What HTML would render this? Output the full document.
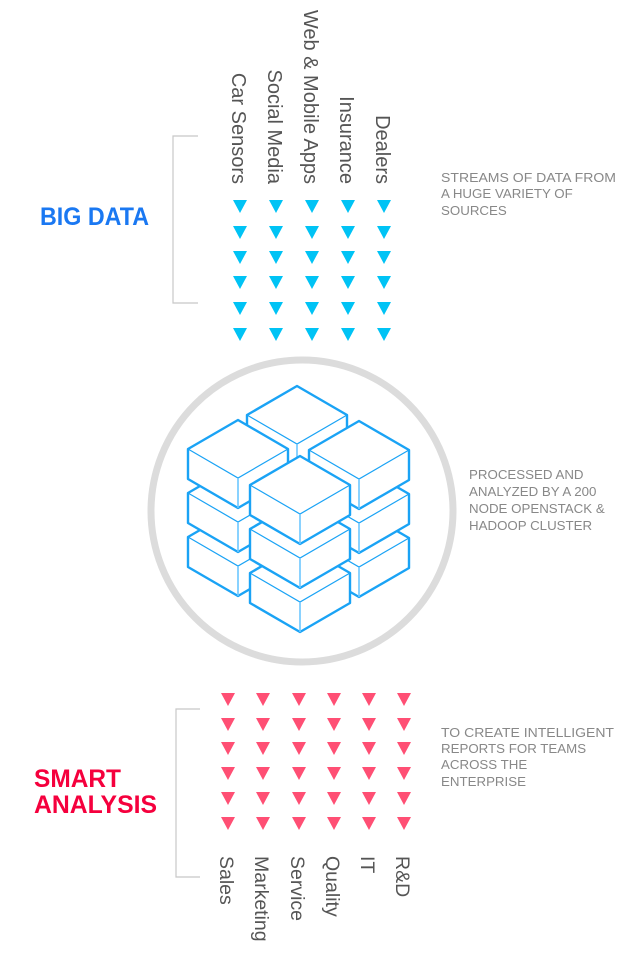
<!DOCTYPE html>
<html><head><meta charset="utf-8"><style>
html,body{margin:0;padding:0;background:#fff;}
svg{display:block;}
</style></head><body>
<svg width="631" height="960" viewBox="0 0 631 960" xmlns="http://www.w3.org/2000/svg" font-family="Liberation Sans, sans-serif">
<defs>
<polygon id="tb" points="-7,-7 7,-7 0,6" fill="#00c3f5"/>
<polygon id="tr" points="-7,-7 7,-7 0,6" fill="#ff4f74"/>
<g id="box">
<polygon points="0,0 50,29 50,59 0,88 -50,59 -50,29" fill="#fff" stroke="#1aa3f5" stroke-width="2.4" stroke-linejoin="round"/>
<polyline points="-50,29 0,58 50,29" fill="none" stroke="#1aa3f5" stroke-width="1.2"/>
<line x1="0" y1="58" x2="0" y2="88" stroke="#6cc6ff" stroke-width="1.6"/>
</g>
</defs>

<polyline points="198,136 173,136 173,303 198,303" fill="none" stroke="#c8c8c8" stroke-width="1.2"/>
<polyline points="200,709 176,709 176,877 200,877" fill="none" stroke="#c8c8c8" stroke-width="1.2"/>

<g font-size="20" fill="#555">
<text transform="translate(232,184) rotate(90)" text-anchor="end">Car Sensors</text>
<text transform="translate(268,184) rotate(90)" text-anchor="end">Social Media</text>
<text transform="translate(304,184) rotate(90)" text-anchor="end">Web &amp; Mobile Apps</text>
<text transform="translate(340,184) rotate(90)" text-anchor="end">Insurance</text>
<text transform="translate(376,184) rotate(90)" text-anchor="end">Dealers</text>
</g>

<g>
<use href="#tb" x="240" y="207"/><use href="#tb" x="276" y="207"/><use href="#tb" x="312" y="207"/><use href="#tb" x="348" y="207"/><use href="#tb" x="384" y="207"/>
<use href="#tb" x="240" y="233"/><use href="#tb" x="276" y="233"/><use href="#tb" x="312" y="233"/><use href="#tb" x="348" y="233"/><use href="#tb" x="384" y="233"/>
<use href="#tb" x="240" y="258"/><use href="#tb" x="276" y="258"/><use href="#tb" x="312" y="258"/><use href="#tb" x="348" y="258"/><use href="#tb" x="384" y="258"/>
<use href="#tb" x="240" y="283"/><use href="#tb" x="276" y="283"/><use href="#tb" x="312" y="283"/><use href="#tb" x="348" y="283"/><use href="#tb" x="384" y="283"/>
<use href="#tb" x="240" y="309"/><use href="#tb" x="276" y="309"/><use href="#tb" x="312" y="309"/><use href="#tb" x="348" y="309"/><use href="#tb" x="384" y="309"/>
<use href="#tb" x="240" y="335"/><use href="#tb" x="276" y="335"/><use href="#tb" x="312" y="335"/><use href="#tb" x="348" y="335"/><use href="#tb" x="384" y="335"/>
</g>

<text x="40" y="225" font-size="25" font-weight="bold" fill="#1a78f2" textLength="109" lengthAdjust="spacingAndGlyphs">BIG DATA</text>

<g font-size="13.3" fill="#888">
<text x="441" y="182" textLength="175" lengthAdjust="spacingAndGlyphs">STREAMS OF DATA FROM</text>
<text x="441" y="198">A HUGE VARIETY OF</text>
<text x="441" y="215">SOURCES</text>
<text x="469" y="479">PROCESSED AND</text>
<text x="469" y="496">ANALYZED BY A 200</text>
<text x="469" y="513">NODE OPENSTACK &amp;</text>
<text x="469" y="530">HADOOP CLUSTER</text>
<text x="441" y="737" textLength="173" lengthAdjust="spacingAndGlyphs">TO CREATE INTELLIGENT</text>
<text x="441" y="753">REPORTS FOR TEAMS</text>
<text x="441" y="769">ACROSS THE</text>
<text x="441" y="786">ENTERPRISE</text>
</g>

<circle cx="302" cy="511" r="151" fill="#fff" stroke="#dcdcdc" stroke-width="7"/>

<use href="#box" x="297" y="474"/><use href="#box" x="297" y="430"/><use href="#box" x="297" y="386"/>
<use href="#box" x="238" y="508"/><use href="#box" x="238" y="464"/><use href="#box" x="238" y="420"/>
<use href="#box" x="359" y="509"/><use href="#box" x="359" y="465"/><use href="#box" x="359" y="421"/>
<use href="#box" x="300" y="544"/><use href="#box" x="300" y="500"/><use href="#box" x="300" y="456"/>

<g>
<use href="#tr" x="228" y="700"/><use href="#tr" x="263" y="700"/><use href="#tr" x="299" y="700"/><use href="#tr" x="334" y="700"/><use href="#tr" x="369" y="700"/><use href="#tr" x="404" y="700"/>
<use href="#tr" x="228" y="725"/><use href="#tr" x="263" y="725"/><use href="#tr" x="299" y="725"/><use href="#tr" x="334" y="725"/><use href="#tr" x="369" y="725"/><use href="#tr" x="404" y="725"/>
<use href="#tr" x="228" y="749"/><use href="#tr" x="263" y="749"/><use href="#tr" x="299" y="749"/><use href="#tr" x="334" y="749"/><use href="#tr" x="369" y="749"/><use href="#tr" x="404" y="749"/>
<use href="#tr" x="228" y="774"/><use href="#tr" x="263" y="774"/><use href="#tr" x="299" y="774"/><use href="#tr" x="334" y="774"/><use href="#tr" x="369" y="774"/><use href="#tr" x="404" y="774"/>
<use href="#tr" x="228" y="799"/><use href="#tr" x="263" y="799"/><use href="#tr" x="299" y="799"/><use href="#tr" x="334" y="799"/><use href="#tr" x="369" y="799"/><use href="#tr" x="404" y="799"/>
<use href="#tr" x="228" y="824"/><use href="#tr" x="263" y="824"/><use href="#tr" x="299" y="824"/><use href="#tr" x="334" y="824"/><use href="#tr" x="369" y="824"/><use href="#tr" x="404" y="824"/>
</g>

<g font-size="19.5" fill="#555">
<text transform="translate(220,856) rotate(90)">Sales</text>
<text transform="translate(255,856) rotate(90)">Marketing</text>
<text transform="translate(291,856) rotate(90)">Service</text>
<text transform="translate(326,856) rotate(90)">Quality</text>
<text transform="translate(361,856) rotate(90)">IT</text>
<text transform="translate(396,856) rotate(90)">R&amp;D</text>
</g>

<g font-size="25" font-weight="bold" fill="#f5003d">
<text x="34" y="787" textLength="87" lengthAdjust="spacingAndGlyphs">SMART</text>
<text x="34" y="813" textLength="123" lengthAdjust="spacingAndGlyphs">ANALYSIS</text>
</g>
</svg>
</body></html>
